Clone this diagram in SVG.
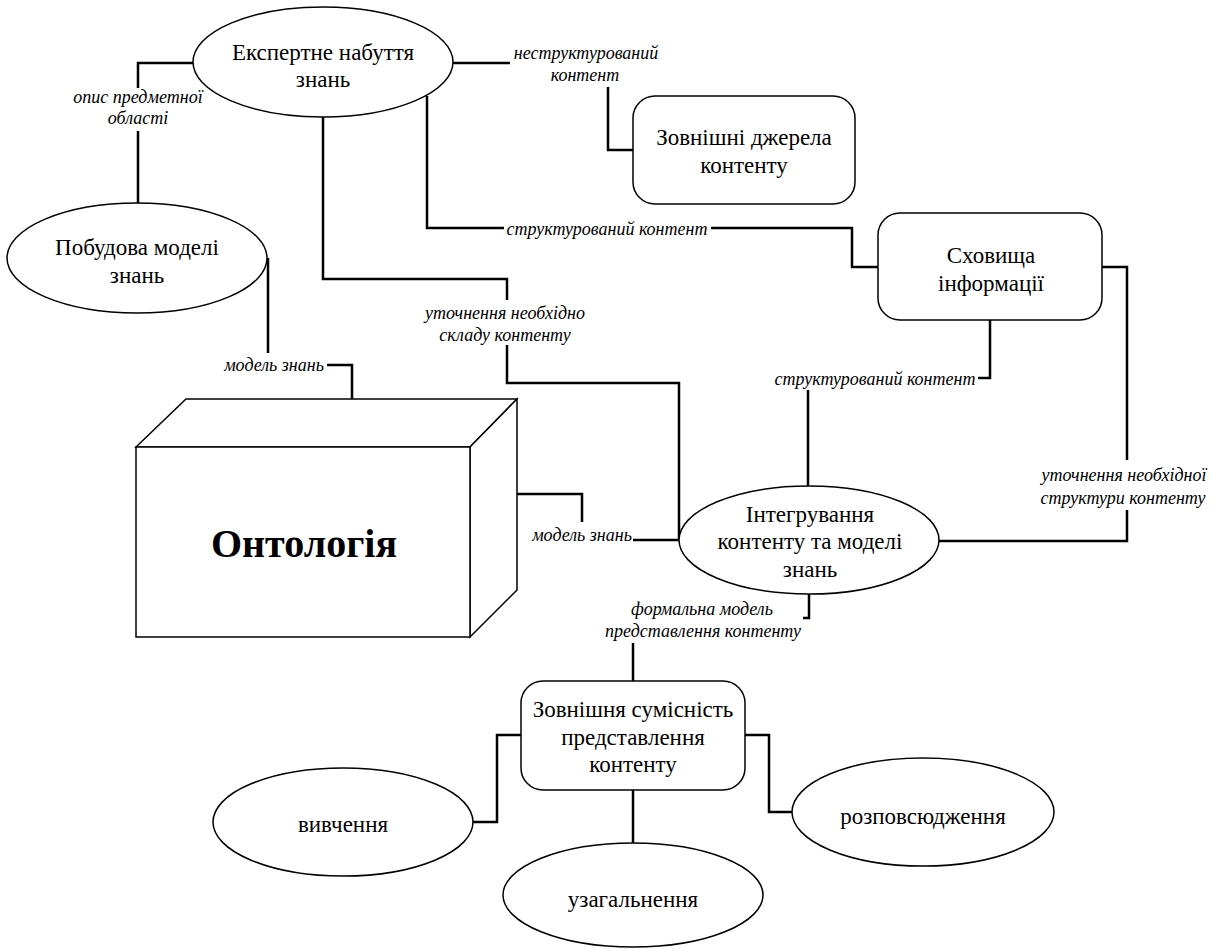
<svg xmlns="http://www.w3.org/2000/svg" width="1217" height="949" viewBox="0 0 1217 949">
<style>
.shape{fill:#fff;stroke:#000;stroke-width:1.5}
.conn{fill:none;stroke:#000;stroke-width:2.5}
text{font-family:'Liberation Serif','Times New Roman','DejaVu Serif',serif;text-anchor:middle;dominant-baseline:central;fill:#000}
.nt{font-size:23px}
.lb{font-size:18px;font-style:italic}
.big{font-size:40px;font-weight:bold}
</style>
<rect width="1217" height="949" fill="#fff"/>
<g id="connectors">
<path class="conn" d="M193,63 H138 V88 M138,131 V205"/>
<path class="conn" d="M268,258 V353 M327,365 H352 V399"/>
<path class="conn" d="M453,63 H510 M608,87 V150 H633"/>
<path class="conn" d="M427,96 V228 H504 M711,228 H852 V267 H878"/>
<path class="conn" d="M990,320 V378 H978 M808,390 V486"/>
<path class="conn" d="M1102,267 H1127 V460 M1127,510 V541 H938"/>
<path class="conn" d="M323,117 V279 H507 V300 M507,345 V383 H679 V540"/>
<path class="conn" d="M517,494 H582 V522 M633,540 H679"/>
<path class="conn" d="M809,594 V618 H803 M633,643 V681"/>
<path class="conn" d="M521,735 H497 V822 H472"/>
<path class="conn" d="M745,735 H769 V812 H792"/>
<path class="conn" d="M633,790 V843"/>
<text class="lb" x="138" y="97">опис предметної</text>
<text class="lb" x="138" y="118">області</text>
<text class="lb" x="274" y="365">модель знань</text>
<text class="lb" x="586" y="53">неструктурований</text>
<text class="lb" x="585" y="75">контент</text>
<text class="lb" x="607" y="229">структурований контент</text>
<text class="lb" x="875" y="379">структурований контент</text>
<text class="lb" x="1124" y="475">уточнення необхідної</text>
<text class="lb" x="1123" y="498">структури контенту</text>
<text class="lb" x="505" y="313">уточнення необхідно</text>
<text class="lb" x="505" y="335">складу контенту</text>
<text class="lb" x="582" y="535">модель знань</text>
<text class="lb" x="702" y="609">формальна модель</text>
<text class="lb" x="703" y="631">представлення контенту</text>
</g>
<g id="expert">
<ellipse class="shape" cx="323" cy="62" rx="130" ry="55"/>
<text class="nt" x="323" y="52">Експертне набуття</text>
<text class="nt" x="323" y="79">знань</text>
</g>
<g id="model">
<ellipse class="shape" cx="137" cy="258" rx="130" ry="55"/>
<text class="nt" x="137" y="247">Побудова моделі</text>
<text class="nt" x="137" y="275">знань</text>
</g>
<g id="sources">
<rect class="shape" x="633" y="96" width="222" height="108" rx="22"/>
<text class="nt" x="744" y="137">Зовнішні джерела</text>
<text class="nt" x="744" y="165">контенту</text>
</g>
<g id="storage">
<rect class="shape" x="878" y="213" width="224" height="107" rx="22"/>
<text class="nt" x="991" y="255">Сховища</text>
<text class="nt" x="991" y="283">інформації</text>
</g>
<g id="ontology">
<path class="shape" d="M136,447 L186,399 L517,399 L470,447 Z"/>
<path class="shape" d="M470,447 L517,399 L517,590 L470,637 Z"/>
<rect class="shape" x="136" y="447" width="334" height="190"/>
<text class="big" x="304" y="543">Онтологія</text>
</g>
<g id="integration">
<ellipse class="shape" cx="809" cy="540" rx="130" ry="54"/>
<text class="nt" x="810" y="514">Інтегрування</text>
<text class="nt" x="810" y="541">контенту та моделі</text>
<text class="nt" x="810" y="569">знань</text>
</g>
<g id="compat">
<rect class="shape" x="521" y="681" width="224" height="109" rx="22"/>
<text class="nt" x="633" y="709">Зовнішня сумісність</text>
<text class="nt" x="633" y="737">представлення</text>
<text class="nt" x="633" y="764">контенту</text>
</g>
<g id="study">
<ellipse class="shape" cx="343" cy="822" rx="130" ry="54"/>
<text class="nt" x="343" y="824">вивчення</text>
</g>
<g id="spread">
<ellipse class="shape" cx="923" cy="812" rx="131" ry="54"/>
<text class="nt" x="923" y="816">розповсюдження</text>
</g>
<g id="general">
<ellipse class="shape" cx="633" cy="895" rx="130" ry="52"/>
<text class="nt" x="633" y="899">узагальнення</text>
</g>
</svg>
